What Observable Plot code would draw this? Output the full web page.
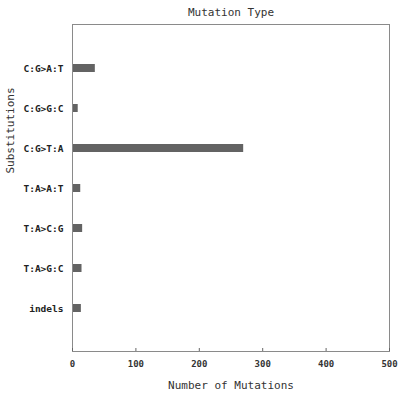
<!DOCTYPE html>
<html>
<head>
<meta charset="utf-8">
<script src="https://cdn.jsdelivr.net/npm/d3@7"></script>
<script src="https://cdn.jsdelivr.net/npm/@observablehq/plot@0.6"></script>
<style>
  html, body { margin: 0; padding: 0; background: #fff; }
  #chart { width: 400px; height: 394px; }
</style>
</head>
<body>
<div id="chart"></div>
<script>
const categories = ["C:G>A:T", "C:G>G:C", "C:G>T:A", "T:A>A:T", "T:A>C:G", "T:A>G:C", "indels"];
const counts = [36, 9, 270, 13, 16, 15, 14];
const xTicks = [0, 100, 200, 300, 400, 500];
const title = "Mutation Type";
const xLabel = "Number of Mutations";
const yLabel = "Substitutions";

const data = categories.map((c, i) => ({category: c, count: counts[i]}));
const mono = "'DejaVu Sans Mono', monospace";

const chart = Plot.plot({
  width: 400,
  height: 394,
  marginLeft: 72,
  marginRight: 11,
  marginTop: 24,
  marginBottom: 43,
  style: {fontFamily: mono, background: "#fff", color: "#222"},
  x: {domain: [0, 500]},
  y: {domain: categories, paddingInner: 0.8, paddingOuter: 0.9},
  marks: [
    Plot.barX(data, {y: "category", x1: 0, x2: "count", fill: "#636363"}),
    Plot.frame({stroke: "#8a8a8a", strokeWidth: 1}),
    Plot.axisX({
      ticks: xTicks, tickSize: -3, tickPadding: 12, stroke: "#666",
      fontSize: 9, fontWeight: "bold", fill: "#333",
      label: xLabel, labelAnchor: "center", labelArrow: "none", labelOffset: 37
    }),
    Plot.axisY({
      tickSize: 0, tickPadding: 9,
      fontSize: 9.5, fontWeight: "bold", fill: "#222",
      label: null
    }),
    Plot.text([title], {frameAnchor: "top", dy: -16, fontSize: 11, fill: "#333", text: d => d}),
    Plot.text([yLabel], {frameAnchor: "top-left", textAnchor: "middle", lineAnchor: "middle", dx: -62, dy: 106, rotate: -90, fontSize: 11, fill: "#333", text: d => d})
  ]
});
chart.querySelectorAll("text").forEach(t => {
  if (t.textContent === xLabel) { t.setAttribute("font-size", "11"); t.setAttribute("font-weight", "normal"); t.setAttribute("fill", "#333"); }
});
document.getElementById("chart").appendChild(chart);
</script>
</body>
</html>
